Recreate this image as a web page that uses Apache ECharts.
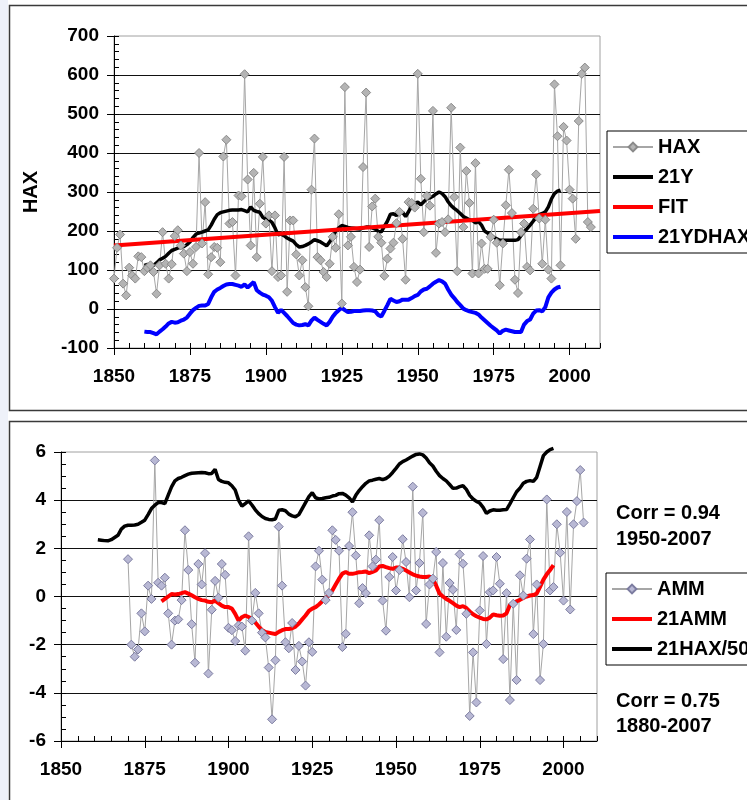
<!DOCTYPE html>
<html><head><meta charset="utf-8">
<script src="https://cdn.jsdelivr.net/npm/echarts@6/dist/echarts.min.js"></script>
<style>html,body{margin:0;padding:0;background:#fff}#c{width:747px;height:800px}</style>
</head><body><div id="c"></div><script>
// ---- Top chart data ----
const xTicksTop = [1850, 1875, 1900, 1925, 1950, 1975, 2000];
const haxStart = 1850;
const hax = [
78,157,191,65,35,106,86,78,135,133,
97,106,112,95,39,112,197,116,78,115,
187,202,163,142,97,146,116,159,400,168,
274,89,133,159,157,120,391,434,219,223,
86,291,289,602,332,163,349,133,270,390,
219,240,97,240,82,86,390,44,227,227,
140,86,125,56,7,306,437,133,125,95,
82,116,185,157,243,14,569,163,185,108,
69,101,364,555,159,263,283,185,170,85,
129,155,170,220,249,180,75,274,272,260,
603,334,197,290,265,508,144,219,223,197,
230,516,287,97,414,210,354,272,91,374,
91,168,103,103,185,229,170,61,168,266,
357,246,75,41,197,219,108,99,257,345,
232,116,229,101,78,576,443,112,467,432,
306,283,180,482,603,619,223,210];
const y21Start = 1860;
const y21 = [
112,114,113,112,118,126,130,135,143,150,
153,156,158,160,165,172,183,192,195,197,
200,203,215,230,242,247,249,251,253,254,
254,254,255,252,249,262,253,250,248,235,
230,228,222,208,190,192,188,182,178,174,
165,159,160,163,167,172,178,175,172,167,
162,172,185,200,208,214,212,209,208,207,
206,205,208,210,210,208,205,199,198,212,
225,243,244,240,246,248,237,250,264,270,
274,267,275,283,285,289,295,300,296,288,
275,265,258,252,245,237,233,229,227,221,
224,215,200,195,189,184,180,176,176,176,
176,176,176,178,188,198,206,215,225,235,
242,245,249,262,282,296,302,305];
const fitYears = [1850, 2010];
const fitValues = [163, 251];
const dhaxStart = 1860;
const dhax = [
-58,-59,-59,-62,-65,-58,-52,-45,-37,-33,
-35,-34,-30,-27,-22,-12,-3,3,8,9,
9,13,30,44,50,54,59,63,64,64,
62,60,57,63,55,62,69,48,42,37,
34,30,21,5,-10,-2,-10,-18,-27,-36,
-40,-42,-41,-39,-42,-30,-22,-28,-33,-38,
-42,-33,-20,-10,-3,3,-3,-8,-7,-5,
-5,-5,-4,-3,-3,-4,-6,-15,-19,-5,
10,26,22,18,20,24,24,24,28,33,
36,45,50,52,58,65,70,74,71,65,
50,37,28,18,10,1,-3,-6,-8,-10,
-14,-22,-29,-36,-43,-49,-55,-63,-56,-53,
-55,-57,-59,-59,-59,-40,-31,-27,-12,-4,
-3,-6,5,30,42,50,55,57];

// ---- Bottom chart data ----
const ammStart = 1870;
const amm = [
1.55,-2.0,-2.5,-2.2,-0.7,-1.45,0.45,-0.1,5.65,0.57,
0.45,0.78,-0.7,-2.0,-1.0,-0.95,-0.15,2.75,1.1,-1.15,
-2.75,1.35,0.5,1.8,-3.2,-0.55,0.65,-0.05,1.35,0.9,
-1.3,-1.4,-1.85,-1.2,-1.25,-2.25,2.5,-1.0,0.15,-0.7,
-1.5,-1.7,-2.95,-5.1,-2.65,2.9,0.45,-1.9,-2.15,-1.1,
-3.05,-2.05,-2.7,-3.7,-1.9,-2.3,1.25,1.9,0.7,-0.15,
0.15,2.75,2.35,1.9,-2.1,-1.55,2.1,3.5,1.7,-0.28,
0.35,0.14,2.54,1.25,1.53,3.17,-0.17,-1.42,0.81,1.64,
0.25,1.1,2.38,1.43,-0.03,4.56,0.25,1.39,3.47,-1.14,
0.5,0.74,1.85,-2.32,1.39,-1.67,0.56,0.28,-1.39,1.75,
1.36,-0.72,-4.96,-2.32,-4.4,-0.58,1.68,-1.97,0.18,0.25,
1.64,0.53,-2.6,0.14,-4.3,-0.3,-3.47,0.88,0.04,1.57,
2.37,-1.56,0.5,-3.47,-1.97,4.03,0.25,0.39,3.0,1.82,
-0.17,3.51,-0.54,3.0,3.96,5.25,3.07];
const amm21Start = 1880;
const amm21 = [
-0.2,-0.1,0.0,0.1,0.08,0.1,0.14,0.18,0.12,0.05,
-0.03,-0.1,-0.15,-0.17,-0.22,-0.24,-0.17,-0.28,-0.38,-0.44,
-0.44,-0.5,-0.72,-1.0,-0.86,-0.79,-0.85,-0.93,-1.08,-1.25,
-1.39,-1.47,-1.5,-1.53,-1.56,-1.47,-1.4,-1.35,-1.35,-1.32,
-1.25,-1.12,-0.95,-0.79,-0.6,-0.5,-0.44,-0.33,-0.2,-0.05,
0.05,0.25,0.5,0.74,0.95,1.02,0.94,0.94,0.97,1.01,
1.02,1.04,0.97,1.02,1.08,1.25,1.27,1.22,1.18,1.15,
1.2,1.2,1.15,1.08,1.0,0.92,0.87,0.83,0.81,0.81,
0.83,0.72,0.45,0.12,0.0,-0.1,-0.18,-0.28,-0.38,-0.44,
-0.4,-0.48,-0.62,-0.74,-0.82,-0.88,-0.93,-0.95,-0.88,-0.74,
-0.78,-0.8,-0.79,-0.7,-0.35,-0.27,-0.2,-0.14,-0.06,0.0,
0.04,0.06,0.12,0.4,0.7,0.92,1.1,1.3];
const hax50Start = 1861;
const hax50 = [
2.36,2.34,2.32,2.31,2.36,2.45,2.54,2.8,2.92,
2.96,2.96,2.97,3.0,3.08,3.17,3.4,3.65,3.79,3.9,
3.9,3.86,4.21,4.55,4.8,4.9,4.95,5.02,5.08,5.12,
5.13,5.14,5.15,5.14,5.1,5.11,5.28,4.86,4.78,4.74,
4.72,4.6,4.42,4.0,3.75,3.86,3.97,3.8,3.6,3.44,
3.32,3.24,3.2,3.19,3.22,3.58,3.6,3.56,3.42,3.35,
3.31,3.4,3.65,3.9,4.15,4.31,4.1,4.05,4.07,4.1,
4.12,4.17,4.2,4.27,4.28,4.21,4.1,3.93,4.2,4.4,
4.56,4.7,4.8,4.83,4.87,4.9,4.85,4.9,5.0,5.15,
5.32,5.5,5.6,5.67,5.75,5.83,5.9,5.92,5.88,5.75,
5.55,5.42,5.2,5.02,4.9,4.8,4.65,4.49,4.5,4.56,
4.6,4.45,4.2,4.05,3.95,3.88,3.7,3.45,3.55,3.6,
3.58,3.58,3.6,3.61,3.85,4.1,4.35,4.5,4.7,4.78,
4.81,4.78,4.95,5.4,5.85,6.0,6.1,6.15];

const legendTop = ['HAX', '21Y', 'FIT', '21YDHAX'];
const legendBottom = ['AMM', '21AMM', '21HAX/50'];
const notes = [['Corr = 0.94', '1950-2007'], ['Corr = 0.75', '1880-2007']];

// ---- helpers ----
const FONT = "'Liberation Sans', Arial, sans-serif";
const txt = {color: '#000', fontFamily: FONT, fontWeight: 'bold', fontSize: 19};
const pairs = (start, arr) => arr.map((v, i) => [start + i, v]);
const BAR_ICON = 'path://M0,0L40,0L40,4L0,4Z';
const withMarker = ['HAX', 'AMM'];
const legendData = names => names.map(n => withMarker.indexOf(n) >= 0 ? {name: n} : {name: n, icon: BAR_ICON});

function majorX(grid, min, max, interval) {
  return {gridIndex: grid, type: 'value', min, max, interval, position: 'bottom',
    axisLine: {show: true, onZero: false, lineStyle: {color: '#000', width: 1}},
    axisTick: {show: true, inside: false, length: 7, lineStyle: {color: '#000', width: 1}},
    axisLabel: Object.assign({}, txt, {margin: 19, showMaxLabel: false,
      formatter: v => xTicksTop.indexOf(v) >= 0 ? String(v) : ''}),
    splitLine: {show: false}};
}
function minorX(grid, min, max, interval) {
  return {gridIndex: grid, type: 'value', min, max, interval, position: 'bottom',
    axisLine: {show: false, onZero: false},
    axisTick: {show: true, inside: true, length: 5, lineStyle: {color: '#000', width: 1}},
    axisLabel: {show: false}, splitLine: {show: false}};
}
function majorY(grid, min, max, interval, extra) {
  return Object.assign({gridIndex: grid, type: 'value', min, max, interval, position: 'left',
    axisLine: {show: true, onZero: false, lineStyle: {color: '#000', width: 1}},
    axisTick: {show: true, inside: false, length: 7, lineStyle: {color: '#000', width: 1}},
    axisLabel: Object.assign({}, txt, {margin: 15}),
    splitLine: {show: true, showMaxLine: false, showMinLine: false, lineStyle: {color: '#111', width: 1}}}, extra || {});
}
function minorY(grid, min, max, interval) {
  return {gridIndex: grid, type: 'value', min, max, interval, position: 'left',
    axisLine: {show: false, onZero: false},
    axisTick: {show: true, inside: true, length: 5, lineStyle: {color: '#000', width: 1}},
    axisLabel: {show: false}, splitLine: {show: false}};
}

const chart = echarts.init(document.getElementById('c'), null, {renderer: 'canvas'});
const legendCommon = {orient: 'vertical', itemWidth: 40, itemHeight: 11, itemGap: 10,
  borderColor: '#000', borderWidth: 1, selectedMode: false, symbolKeepAspect: true,
  textStyle: Object.assign({}, txt, {fontSize: 20})};

chart.setOption({
  animation: false,
  backgroundColor: '#fff',
  grid: [
    {left: 114, top: 36, width: 486, height: 312, show: true, borderColor: '#a0a0a0', borderWidth: 1,
     backgroundColor: 'transparent', containLabel: false, outerBoundsMode: 'none'},
    {left: 61, top: 452, width: 536, height: 289, show: true, borderColor: '#a0a0a0', borderWidth: 1,
     backgroundColor: 'transparent', containLabel: false, outerBoundsMode: 'none'}
  ],
  xAxis: [majorX(0, 1850, 2010, 25), minorX(0, 1850, 2010, 5),
          majorX(1, 1850, 2010, 25), minorX(1, 1850, 2010, 5)],
  yAxis: [majorY(0, -100, 700, 100, {name: 'HAX', nameLocation: 'middle', nameGap: 73, nameRotate: 90,
            nameTextStyle: Object.assign({}, txt, {fontSize: 20})}),
          minorY(0, -100, 700, 20),
          majorY(1, -6, 6, 2), minorY(1, -6, 6, 0.5)],
  legend: [
    Object.assign({}, legendCommon, {data: legendData(legendTop), left: 607, top: 131, padding: [6, 40, 6, 5]}),
    Object.assign({}, legendCommon, {data: legendData(legendBottom), left: 606, top: 573, padding: [6, 40, 6, 5]})
  ],
  series: [
    {name: 'HAX', type: 'line', xAxisIndex: 0, yAxisIndex: 0, data: pairs(haxStart, hax),
     symbol: 'diamond', symbolSize: 9, color: '#ababab',
     lineStyle: {color: '#a6a6a6', width: 1}, itemStyle: {color: '#b4b4b4', borderColor: '#8a8a8a', borderWidth: 1}},
    {name: '21Y', type: 'line', xAxisIndex: 0, yAxisIndex: 0, data: pairs(y21Start, y21),
     symbol: 'none', color: '#000', itemStyle: {color: '#000'}, lineStyle: {color: '#000', width: 3.5}},
    {name: 'FIT', type: 'line', xAxisIndex: 0, yAxisIndex: 0, data: fitYears.map((y, i) => [y, fitValues[i]]),
     symbol: 'none', color: '#ff0000', itemStyle: {color: '#ff0000'}, lineStyle: {color: '#ff0000', width: 4}},
    {name: '21YDHAX', type: 'line', xAxisIndex: 0, yAxisIndex: 0, data: pairs(dhaxStart, dhax),
     symbol: 'none', color: '#0000ff', itemStyle: {color: '#0000ff'}, lineStyle: {color: '#0000ff', width: 4}},
    {name: 'AMM', type: 'line', xAxisIndex: 2, yAxisIndex: 2, data: pairs(ammStart, amm),
     symbol: 'diamond', symbolSize: 9, color: '#b0b0cc',
     lineStyle: {color: '#a6a6a6', width: 1}, itemStyle: {color: '#b8b8d4', borderColor: '#7c7ca0', borderWidth: 1}},
    {name: '21AMM', type: 'line', xAxisIndex: 2, yAxisIndex: 2, data: pairs(amm21Start, amm21),
     symbol: 'none', color: '#ff0000', itemStyle: {color: '#ff0000'}, lineStyle: {color: '#ff0000', width: 4}},
    {name: '21HAX/50', type: 'line', xAxisIndex: 2, yAxisIndex: 2, data: pairs(hax50Start, hax50),
     symbol: 'none', clip: false, color: '#000', itemStyle: {color: '#000'}, lineStyle: {color: '#000', width: 3.5}}
  ],
  graphic: [
    {type: 'rect', silent: true, shape: {x: 0, y: 0, width: 8, height: 800}, style: {fill: '#eef1f9'}},
    {type: 'rect', silent: true, shape: {x: 9.5, y: 5.5, width: 800, height: 405}, style: {fill: 'none', stroke: '#3a3a3a', lineWidth: 1.5}},
    {type: 'rect', silent: true, shape: {x: 9.5, y: 421.5, width: 800, height: 400}, style: {fill: 'none', stroke: '#3a3a3a', lineWidth: 1.5}},
    {type: 'text', silent: true, x: 616, y: 513, style: {text: notes[0][0], fill: '#000', font: "bold 20px 'Liberation Sans', Arial", verticalAlign: 'middle'}},
    {type: 'text', silent: true, x: 616, y: 539, style: {text: notes[0][1], fill: '#000', font: "bold 20px 'Liberation Sans', Arial", verticalAlign: 'middle'}},
    {type: 'text', silent: true, x: 616, y: 701, style: {text: notes[1][0], fill: '#000', font: "bold 20px 'Liberation Sans', Arial", verticalAlign: 'middle'}},
    {type: 'text', silent: true, x: 616, y: 726, style: {text: notes[1][1], fill: '#000', font: "bold 20px 'Liberation Sans', Arial", verticalAlign: 'middle'}}
  ]
});
</script></body></html>
